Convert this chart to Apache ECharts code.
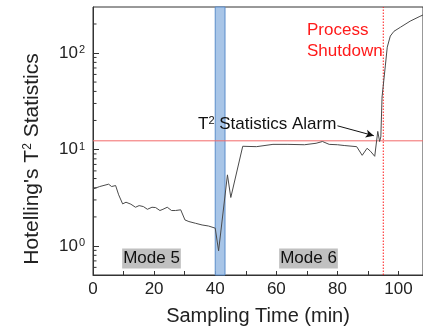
<!DOCTYPE html>
<html>
<head>
<meta charset="utf-8">
<script src="https://cdn.jsdelivr.net/npm/echarts@6/dist/echarts.min.js"></script>
<style>
html,body{margin:0;padding:0;background:#fff;}
#chart{width:423px;height:334px;}
</style>
</head>
<body>
<div id="chart"></div>
<script>
// Sampling time (min)
const timeMin = [0, 2.2, 5.1, 6.1, 7.4, 8.4, 9.7, 10.8, 12.4, 13.9, 15.1, 16.5, 17.8, 19.3, 20.5, 21.9, 22.9, 24.3, 25.7, 27.0, 28.7, 30.1, 31.4, 33.5, 35.7, 37.8, 40.0, 41.1, 44.0, 45.1, 49.0, 53.5, 58.9, 63.8, 69.2, 73.0, 75.1, 77.3, 80.0, 82.2, 86.3, 88.1, 89.7, 90.8, 92.2, 93.2, 93.8, 94.2, 94.6, 95.7, 96.3, 97.3, 98.5, 100.6, 103.8, 107.0, 108.0];
// Hotelling's T^2 statistics
const t2Stat = [3.9, 4.13, 4.37, 4.13, 4.23, 3.39, 2.73, 2.84, 2.71, 2.52, 2.62, 2.56, 2.40, 2.52, 2.50, 2.33, 2.40, 2.52, 2.33, 2.33, 2.37, 1.86, 1.79, 1.72, 1.65, 1.61, 1.53, 0.89, 5.46, 3.18, 10.8, 10.7, 11.3, 11.3, 11.2, 11.6, 12.1, 11.3, 11.2, 11.0, 10.7, 8.7, 10.3, 9.6, 8.5, 15.4, 12.1, 13.5, 35, 75, 115, 150, 168, 185, 214, 240, 248];
const transitionBand = [40, 43.2];
const alarmLimit = 12.3;
const shutdownTime = 95;
const arrowFrom = [80, 17.6];
const arrowTo = [91.9, 13.9];
const xRange = [0, 108];
const yRange = [0.5, 300];
const xTickLabels = ['0', '20', '40', '60', '80', '100'];
const yMajorTicks = [1, 10, 100];
const yMinorTicks = [0.6, 0.7, 0.8, 0.9, 2, 3, 4, 5, 6, 7, 8, 9, 20, 30, 40, 50, 60, 70, 80, 90, 200];
const modeLabels = ['Mode 5', 'Mode 6'];

const FONT = 'Liberation Sans, Arial, sans-serif';
const chart = echarts.init(document.getElementById('chart'));
const lineData = timeMin.map((t, i) => [t, t2Stat[i]]);

chart.setOption({
  animation: false,
  grid: { left: 93, top: 7, width: 333, height: 268, show: true, borderColor: '#333', borderWidth: 1, backgroundColor: 'transparent' },
  xAxis: {
    type: 'value', min: xRange[0], max: xRange[1], interval: 10,
    name: 'Sampling Time (min)', nameLocation: 'middle', nameGap: 31,
    nameTextStyle: { fontFamily: FONT, fontSize: 20, color: '#222' },
    axisLine: { lineStyle: { color: '#333' } },
    axisTick: { inside: true, length: 4, lineStyle: { color: '#333' } },
    splitLine: { show: false },
    axisLabel: {
      fontFamily: FONT, fontSize: 17, color: '#222', margin: 6, showMaxLabel: false,
      formatter: v => (xTickLabels.indexOf(String(v)) >= 0 ? String(v) : '')
    }
  },
  yAxis: {
    type: 'log', min: yRange[0], max: yRange[1], logBase: 10,
    axisLine: { show: true, lineStyle: { color: '#333' } },
    axisTick: { inside: true, length: 6, lineStyle: { color: '#333' } },
    splitLine: { show: false },
    axisLabel: {
      showMinLabel: false, showMaxLabel: false, margin: 8,
      formatter: v => {
        const e = Math.round(Math.log10(v));
        if (yMajorTicks.indexOf(Math.pow(10, e)) < 0 || Math.abs(Math.pow(10, e) - v) > 1e-6 * v) return '';
        return '{b|10}{s|' + e + '}';
      },
      rich: {
        b: { fontFamily: FONT, fontSize: 17, color: '#222' },
        s: { fontFamily: FONT, fontSize: 11, color: '#222', verticalAlign: 'top', padding: [0, 0, 0, 1] }
      }
    }
  },
  series: [
    {
      type: 'line', data: [], z: 1, silent: true,
      markArea: {
        silent: true,
        itemStyle: { color: '#a8c5e7', borderColor: '#5a8cca', borderWidth: 1 },
        data: [[{ xAxis: transitionBand[0] }, { xAxis: transitionBand[1] }]]
      }
    },
    {
      type: 'line', z: 2, silent: true, showSymbol: false, symbol: 'none',
      data: [[xRange[0], alarmLimit], [xRange[1], alarmLimit]],
      lineStyle: { color: '#f26a6a', width: 1, type: 'solid' }
    },
    {
      type: 'line', z: 2, silent: true, showSymbol: false, symbol: 'none',
      data: [[shutdownTime, yRange[0]], [shutdownTime, yRange[1]]],
      lineStyle: { color: '#ff1a1a', width: 1, type: [1.5, 1.5] }
    },
    {
      type: 'line', data: [], z: 5, silent: true,
      markLine: {
        silent: true, label: { show: false }, animation: false,
        symbol: ['none', 'arrow'], symbolSize: [6, 8],
        lineStyle: { color: '#111111', width: 1, type: 'solid' },
        data: [[{ coord: arrowFrom }, { coord: arrowTo }]]
      }
    },
    {
      type: 'line', data: lineData, z: 3, showSymbol: false, silent: true,
      lineStyle: { color: '#4a4a4a', width: 1 }
    },
    {
      type: 'custom', silent: true, z: 4, clip: false,
      data: yMinorTicks.map(v => [0, v]),
      renderItem: (params, api) => {
        const p = api.coord([0, api.value(1)]);
        return { type: 'line', shape: { x1: p[0], y1: p[1], x2: p[0] + 3.5, y2: p[1] }, style: { stroke: '#333', lineWidth: 1 } };
      }
    }
  ],
  graphic: [
    {
      type: 'text', x: 32, y: 159, rotation: Math.PI / 2,
      style: {
        text: "{a|Hotelling's T}{s|2}{a| Statistics}",
        textAlign: 'center', textVerticalAlign: 'middle',
        rich: {
          a: { fontFamily: FONT, fontSize: 21, fill: '#222' },
          s: { fontFamily: FONT, fontSize: 12, fill: '#222', verticalAlign: 'top' }
        }
      }
    },
    {
      type: 'text', x: 198, y: 124, z: 10,
      style: {
        text: '{a|T}{s|2}{a| Statistics Alarm}',
        textAlign: 'left', textVerticalAlign: 'middle',
        rich: {
          a: { fontFamily: FONT, fontSize: 17, fill: '#111' },
          s: { fontFamily: FONT, fontSize: 11, fill: '#111', verticalAlign: 'top' }
        }
      }
    },
    {
      type: 'text', x: 307, y: 41, z: 10,
      style: {
        text: 'Process\nShutdown', fontFamily: FONT, fontSize: 17, fill: '#ff1a1a',
        lineHeight: 21, textAlign: 'left', textVerticalAlign: 'middle'
      }
    },
    {
      type: 'text', x: 151.5, y: 258.5, z: 10,
      style: {
        text: modeLabels[0], fontFamily: FONT, fontSize: 17, fill: '#111',
        backgroundColor: '#c0c0c0', padding: [2, 1, 1, 1], textAlign: 'center', textVerticalAlign: 'middle'
      }
    },
    {
      type: 'text', x: 308.5, y: 258.5, z: 10,
      style: {
        text: modeLabels[1], fontFamily: FONT, fontSize: 17, fill: '#111',
        backgroundColor: '#c0c0c0', padding: [2, 1, 1, 1], textAlign: 'center', textVerticalAlign: 'middle'
      }
    }
  ]
});
</script>
</body>
</html>
